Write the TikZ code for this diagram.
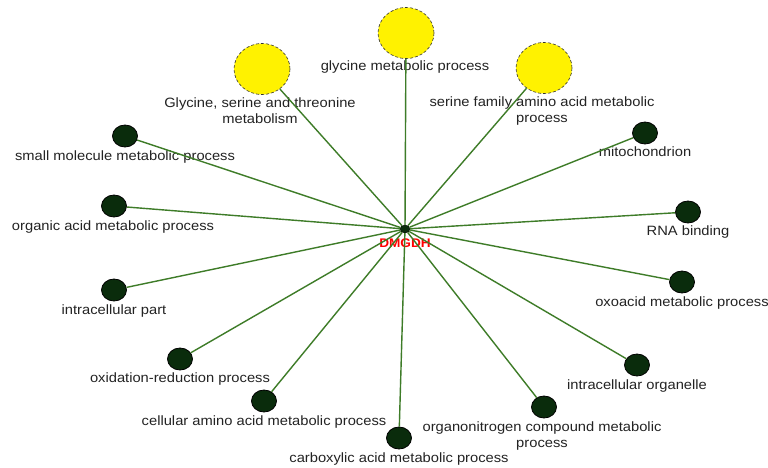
\documentclass[tikz,border=0pt]{standalone}
\usepackage{fontspec}
\setmainfont[FakeStretch=1.09]{Liberation Sans}
\usetikzlibrary{shapes.geometric}
\definecolor{edgegreen}{RGB}{62,124,40}
\definecolor{termgreen}{RGB}{10,44,12}
\definecolor{lblgray}{RGB}{35,35,35}
\tikzset{
  term/.style={ellipse,draw=black,line width=0.8pt,fill=termgreen,minimum width=25pt,minimum height=22pt,inner sep=0pt},
  path/.style={ellipse,draw=black!80,densely dashed,line width=0.6pt,fill=yellow,minimum width=56pt,minimum height=51pt,inner sep=0pt},
  hub/.style={ellipse,draw=black,fill=termgreen,minimum width=10pt,minimum height=8pt,inner sep=0pt},
  lbl/.style={font=\fontsize{13.5}{16}\selectfont,text=lblgray,inner sep=0pt,text height=1.5ex,text depth=.25ex},
  lbltwo/.style={font=\fontsize{13.5}{16}\selectfont,text=lblgray,inner sep=0pt,align=center,anchor=north},
  link/.style={draw=edgegreen,line width=1.4pt}
}
\begin{document}
\begin{tikzpicture}[x=1pt,y=-1pt]
    \useasboundingbox[fill=white] (0,0) rectangle (768,467);
    % centre gene
    \node[hub] (dmgdh) at (405,229) {};
    \node[font=\fontsize{12.5}{14}\selectfont\bfseries,text=red,inner sep=0pt] (dmgdhlbl) at (405,243) {DMGDH};
    % pathways (yellow)
    \node[path] (gly) at (406,33) {};
    \node[lbl] (glylbl) at (405,67) {glycine metabolic process};
    \node[path] (gst) at (262,69) {};
    \node[lbltwo] (gstlbl) at (260,98) {Glycine, serine and threonine\\metabolism};
    \node[path] (ser) at (544,68) {};
    \node[lbltwo] (serlbl) at (542,97) {serine family amino acid metabolic\\process};
    % GO terms (dark)
    \node[term] (smm) at (125,136) {};
    \node[lbl] (smmlbl) at (125,157) {small molecule metabolic process};
    \node[term] (oam) at (114,206) {};
    \node[lbl] (oamlbl) at (113,227) {organic acid metabolic process};
    \node[term] (icp) at (114,290) {};
    \node[lbl] (icplbl) at (114,311) {intracellular part};
    \node[term] (oxr) at (180,359) {};
    \node[lbl] (oxrlbl) at (180,379) {oxidation-reduction process};
    \node[term] (caa) at (264,401) {};
    \node[lbl] (caalbl) at (264,422) {cellular amino acid metabolic process};
    \node[term] (cam) at (399,438) {};
    \node[lbl] (camlbl) at (399,459) {carboxylic acid metabolic process};
    \node[term] (onc) at (544,407) {};
    \node[lbltwo] (onclbl) at (542,422) {organonitrogen compound metabolic\\process};
    \node[term] (ico) at (637,365) {};
    \node[lbl] (icolbl) at (637,386) {intracellular organelle};
    \node[term] (oxo) at (682,282) {};
    \node[lbl] (oxolbl) at (682,303) {oxoacid metabolic process};
    \node[term] (rna) at (688,212) {};
    \node[lbl] (rnalbl) at (688,232) {RNA binding};
    \node[term] (mit) at (645,133) {};
    \node[lbl] (mitlbl) at (645,153) {mitochondrion};
    % edges
    \foreach \t in {gly,gst,ser,smm,oam,icp,oxr,caa,cam,onc,ico,oxo,rna,mit}
        \draw[link] (dmgdh) -- (\t);
\end{tikzpicture}
\end{document}
